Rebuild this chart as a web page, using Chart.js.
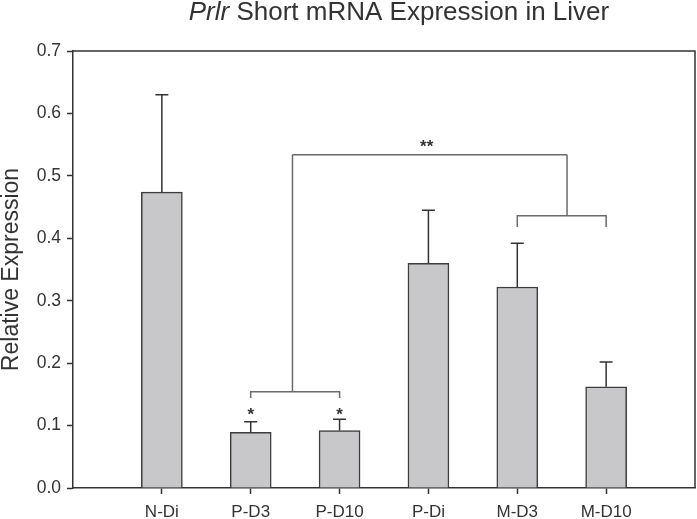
<!DOCTYPE html>
<html>
<head>
<meta charset="utf-8">
<script src="https://cdn.jsdelivr.net/npm/chart.js@4.4.1/dist/chart.umd.min.js"></script>
<style>
    html, body { margin: 0; padding: 0; background: #fff; }
    #chart { display: block; }
</style>
</head>
<body>
<canvas id="chart" width="697" height="519"></canvas>
<script>
// Chart data
const groups = ['N-Di', 'P-D3', 'P-D10', 'P-Di', 'M-D3', 'M-D10'];
const meanExpression = [0.474, 0.089, 0.092, 0.360, 0.322, 0.162];
const errorUpper = [0.156, 0.017, 0.018, 0.085, 0.070, 0.040];
const yTicks = [0, 0.1, 0.2, 0.3, 0.4, 0.5, 0.6, 0.7];

// significance brackets, in axis units (x = slot index, y = expression)
const brackets = [
    { x1: 2, x2: 3, y: 0.154, drop: 0.144, stemX: 2.47, stemTop: 0.534 },
    { x1: 5, x2: 6, y: 0.436, drop: 0.418, stemX: 5.56, stemTop: 0.534 }
];
const topBar = { x1: 2.47, x2: 5.56, y: 0.534 };
const stars = [
    { x: 2, y: 0.125, text: '*' },
    { x: 3, y: 0.125, text: '*' },
    { x: 3.98, y: 0.555, text: '**' }
];

// empty slots either side so the bars sit where the original axis puts them
const axisLabels = ['', ...groups, ''];
const barValues = [null, ...meanExpression, null];

const FONT = '"Liberation Sans", Arial, Helvetica, sans-serif';
const INK = '#333333';

const extrasPlugin = {
    id: 'extras',
    afterDatasetsDraw(chart) {
        const ctx = chart.ctx;
        const x = chart.scales.x;
        const y = chart.scales.y;

        // error bars (upper only)
        ctx.save();
        ctx.strokeStyle = INK;
        ctx.lineWidth = 1.5;
        meanExpression.forEach((m, i) => {
            const px = x.getPixelForValue(i + 1);
            const top = y.getPixelForValue(m + errorUpper[i]);
            ctx.beginPath();
            ctx.moveTo(px, y.getPixelForValue(m));
            ctx.lineTo(px, top);
            ctx.moveTo(px - 6.5, top);
            ctx.lineTo(px + 6.5, top);
            ctx.stroke();
        });
        ctx.restore();

        // brackets
        ctx.save();
        ctx.strokeStyle = '#6a6a6a';
        ctx.lineWidth = 1.5;
        brackets.forEach(b => {
            const xa = x.getPixelForValue(b.x1);
            const xb = x.getPixelForValue(b.x2);
            const yy = y.getPixelForValue(b.y);
            const yd = y.getPixelForValue(b.drop);
            ctx.beginPath();
            ctx.moveTo(xa, yd);
            ctx.lineTo(xa, yy);
            ctx.lineTo(xb, yy);
            ctx.lineTo(xb, yd);
            const sx = x.getPixelForValue(b.stemX);
            ctx.moveTo(sx, yy);
            ctx.lineTo(sx, y.getPixelForValue(b.stemTop));
            ctx.stroke();
        });
        ctx.beginPath();
        ctx.moveTo(x.getPixelForValue(topBar.x1), y.getPixelForValue(topBar.y));
        ctx.lineTo(x.getPixelForValue(topBar.x2), y.getPixelForValue(topBar.y));
        ctx.stroke();
        ctx.restore();

        // stars
        ctx.save();
        ctx.fillStyle = INK;
        ctx.font = 'bold 17px ' + FONT;
        ctx.textAlign = 'center';
        ctx.textBaseline = 'alphabetic';
        stars.forEach(s => {
            ctx.fillText(s.text, x.getPixelForValue(s.x), y.getPixelForValue(s.y) + 10);
        });
        ctx.restore();
    },
    afterDraw(chart) {
        const ctx = chart.ctx;
        const area = chart.chartArea;

        // top and right sides of the frame
        ctx.save();
        ctx.strokeStyle = INK;
        ctx.lineWidth = 1.5;
        ctx.beginPath();
        ctx.moveTo(area.left, area.top);
        ctx.lineTo(area.right, area.top);
        ctx.lineTo(area.right, area.bottom);
        ctx.stroke();
        ctx.restore();

        // title with italic gene name
        ctx.save();
        ctx.fillStyle = INK;
        ctx.textBaseline = 'alphabetic';
        const gene = 'Prlr';
        const rest = ' Short mRNA Expression in Liver';
        ctx.font = 'italic 26px ' + FONT;
        const w1 = ctx.measureText(gene).width;
        ctx.font = '26px ' + FONT;
        const w2 = ctx.measureText(rest).width;
        const cx = (area.left + area.right) / 2 + 15;
        const start = cx - (w1 + w2) / 2;
        ctx.font = 'italic 26px ' + FONT;
        ctx.fillText(gene, start, 20);
        ctx.font = '26px ' + FONT;
        ctx.fillText(rest, start + w1, 20);
        ctx.restore();
    }
};

const chart = new Chart(document.getElementById('chart'), {
    type: 'bar',
    data: {
        labels: axisLabels,
        datasets: [{
            data: barValues,
            backgroundColor: '#c8c8ca',
            borderColor: '#3c3c3c',
            borderWidth: 1.5,
            barThickness: 41
        }]
    },
    plugins: [extrasPlugin],
    options: {
        responsive: false,
        animation: false,
        layout: { padding: { top: 51, right: 2, left: 0, bottom: 0 } },
        plugins: {
            legend: { display: false },
            tooltip: { enabled: false }
        },
        scales: {
            x: {
                offset: false,
                grid: {
                    offset: false,
                    drawOnChartArea: false,
                    tickLength: 6,
                    tickWidth: 1.5,
                    tickColor: c => axisLabels[c.index] ? INK : 'rgba(0,0,0,0)'
                },
                border: { color: INK, width: 1.5 },
                ticks: {
                    color: INK,
                    padding: 8,
                    maxRotation: 0,
                    autoSkip: false,
                    font: { family: FONT, size: 17 }
                },
                afterFit: s => {
                    s.height = 31;
                    s.paddingLeft = 0;
                    s.paddingRight = 0;
                }
            },
            y: {
                min: 0,
                max: 0.7,
                afterBuildTicks: s => { s.ticks = yTicks.map(v => ({ value: v })); },
                grid: {
                    drawOnChartArea: false,
                    tickLength: 6,
                    tickWidth: 1.5,
                    tickColor: INK
                },
                border: { color: INK, width: 1.5 },
                ticks: {
                    color: INK,
                    padding: 6,
                    font: { family: FONT, size: 17.5 },
                    callback: v => v.toFixed(1)
                },
                title: {
                    display: true,
                    text: 'Relative Expression',
                    color: INK,
                    padding: 0,
                    font: { family: FONT, size: 23, lineHeight: 1 }
                },
                afterFit: s => {
                    s.width = 73;
                    s.paddingTop = 0;
                    s.paddingBottom = 0;
                }
            }
        }
    }
});
</script>
</body>
</html>
